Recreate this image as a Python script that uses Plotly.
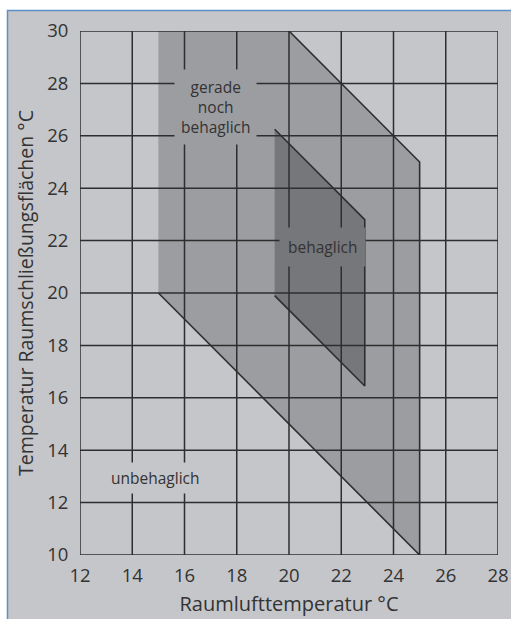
import plotly.graph_objects as go

# Data
x_ticks = [12, 14, 16, 18, 20, 22, 24, 26, 28]
y_ticks = [10, 12, 14, 16, 18, 20, 22, 24, 26, 28, 30]

outer_x = [15, 15, 20, 25, 25]
outer_y = [20, 30, 30, 25, 10]
outer_edges = [2, 3, 4, 0]          # vertices joined by dark outline

inner_x = [19.45, 19.45, 22.9, 22.9]
inner_y = [19.9, 26.25, 22.8, 16.45]
inner_edges = [1, 2, 3, 0]

labels = ["gerade<br>noch<br>behaglich", "behaglich", "unbehaglich"]
label_x = [17.2, 21.3, 14.9]
label_y = [27.1, 21.75, 12.95]

x_title = "Raumlufttemperatur °C"
y_title = "Temperatur Raumschließungsflächen °C"

BG = "#c5c6ca"
OUTER = "#9c9da1"
INNER = "#76777b"
GRID = "#2e2e2e"
TXT = "#333333"
FONT = "Open Sans"

fig = go.Figure()

fig.add_trace(go.Scatter(x=outer_x, y=outer_y, fill="toself", fillcolor=OUTER,
                         mode="none", hoverinfo="skip", showlegend=False))
fig.add_trace(go.Scatter(x=inner_x, y=inner_y, fill="toself", fillcolor=INNER,
                         mode="none", hoverinfo="skip", showlegend=False))
fig.add_trace(go.Scatter(x=[outer_x[i] for i in outer_edges], y=[outer_y[i] for i in outer_edges],
                         mode="lines", line=dict(color=GRID, width=1.6),
                         hoverinfo="skip", showlegend=False))
fig.add_trace(go.Scatter(x=[inner_x[i] for i in inner_edges], y=[inner_y[i] for i in inner_edges],
                         mode="lines", line=dict(color=GRID, width=1.6),
                         hoverinfo="skip", showlegend=False))

W, H = 511, 619
ML, MR, MT, MB = 80, 13, 31, 64
PW, PH = W - ML - MR, H - MT - MB

shapes = []
# page background with blue frame (left and top edges visible)
shapes.append(dict(type="rect", xref="paper", yref="paper",
                   x0=(7.5 - ML) / PW, x1=1.3, y0=-0.3, y1=(PH + MT - 10.5) / PH,
                   fillcolor=BG, line=dict(color="#5b8fc7", width=1.5), layer="below"))
for xv in x_ticks:
    shapes.append(dict(type="line", xref="x", yref="y", x0=xv, x1=xv,
                       y0=y_ticks[0], y1=y_ticks[-1],
                       line=dict(color=GRID, width=1.5), layer="above"))
for yv in y_ticks:
    shapes.append(dict(type="line", xref="x", yref="y", x0=x_ticks[0], x1=x_ticks[-1],
                       y0=yv, y1=yv,
                       line=dict(color=GRID, width=1.5), layer="above"))

annotations = []
bgs = [OUTER, INNER, BG]
pads = [dict(borderpad=6), dict(borderpad=8), dict(borderpad=4)]
for t, xa, ya, bg, p in zip(labels, label_x, label_y, bgs, pads):
    annotations.append(dict(text=t, x=xa, y=ya, xref="x", yref="y", showarrow=False,
                            font=dict(family=FONT, size=15.5, color=TXT),
                            bgcolor=bg, **p))

fig.update_layout(
    width=W, height=H,
    margin=dict(l=ML, r=MR, t=MT, b=MB),
    paper_bgcolor="white", plot_bgcolor=BG,
    shapes=shapes, annotations=annotations,
    font=dict(family=FONT, color=TXT),
    xaxis=dict(range=[12, 28], tickvals=x_ticks, showgrid=False, zeroline=False,
               showline=False, ticks="outside", ticklen=4, tickcolor="rgba(0,0,0,0)",
               tickfont=dict(size=18.5, color=TXT), automargin=False,
               title=dict(text=x_title, font=dict(size=20, color=TXT), standoff=10)),
    yaxis=dict(range=[10, 30], tickvals=y_ticks, showgrid=False, zeroline=False,
               showline=False, ticks="outside", ticklen=7, tickcolor="rgba(0,0,0,0)",
               tickfont=dict(size=18.5, color=TXT), automargin=False,
               title=dict(text=y_title, font=dict(size=19.5, color=TXT), standoff=8)),
)

fig.write_html("out.html", config={"displayModeBar": False},
               post_script="document.body.style.margin='0';document.body.style.overflow='hidden';")
